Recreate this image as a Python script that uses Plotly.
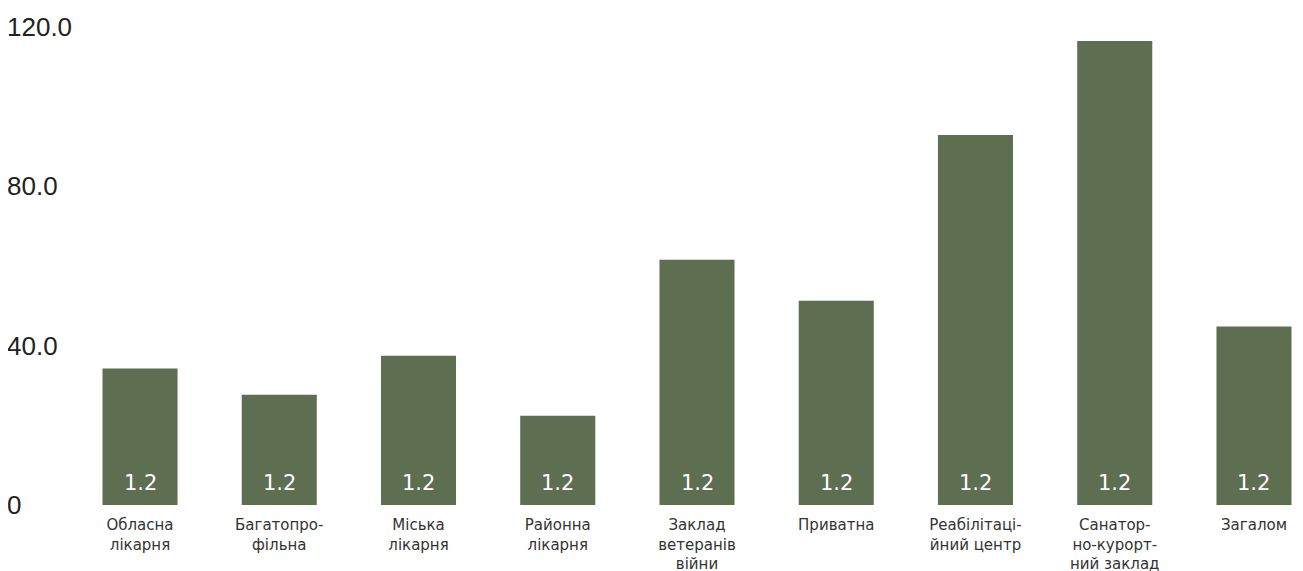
import plotly.graph_objects as go

categories = [
    "Обласна<br>лікарня",
    "Багатопро-<br>фільна",
    "Міська<br>лікарня",
    "Районна<br>лікарня",
    "Заклад<br>ветеранів<br>війни",
    "Приватна",
    "Реабілітаці-<br>йний центр",
    "Санатор-<br>но-курорт-<br>ний заклад",
    "Загалом",
]
values = [34.3, 27.7, 37.5, 22.4, 61.6, 51.3, 92.9, 116.5, 44.8]
bar_labels = ["1.2"] * 9
y_tickvals = [0, 40, 80, 120]
y_ticktext = ["0", "40.0", "80.0", "120.0"]

xs = list(range(len(categories)))

fig = go.Figure(
    go.Bar(
        x=xs,
        y=values,
        marker=dict(color="#5e6e51", line=dict(width=0)),
        width=0.539,
        hoverinfo="skip",
    )
)

for xi, lab in zip(xs, bar_labels):
    fig.add_annotation(
        x=xi, y=0, xref="x", yref="y",
        text=lab, showarrow=False,
        yanchor="middle", xanchor="center",
        yshift=22,
        font=dict(family="DejaVu Sans, sans-serif", size=21, color="white"),
    )

# the page adds an 8px body margin, so the figure is sized to fit inside it
fig.update_layout(
    width=1295,
    height=563,
    margin=dict(l=0, r=11, t=0, b=41),
    paper_bgcolor="white",
    plot_bgcolor="white",
    showlegend=False,
)
fig.update_xaxes(
    range=[-0.948, 8.273],
    tickmode="array",
    tickvals=xs,
    ticktext=categories,
    ticks="",
    automargin=False,
    ticklabelstandoff=-16,
    tickfont=dict(family="DejaVu Sans, sans-serif", size=15, color="#333333"),
    showgrid=False,
    zeroline=False,
    showline=False,
)
fig.update_yaxes(
    range=[-6.27, 124.78],
    tickmode="array",
    tickvals=y_tickvals,
    ticktext=y_ticktext,
    ticklabelposition="inside",
    automargin=False,
    ticklabelstandoff=-4,
    tickfont=dict(family="Liberation Sans, Arial, sans-serif", size=26, color="#222222"),
    showgrid=False,
    zeroline=False,
    showline=False,
    ticks="",
)

fig.write_html("out.html")
